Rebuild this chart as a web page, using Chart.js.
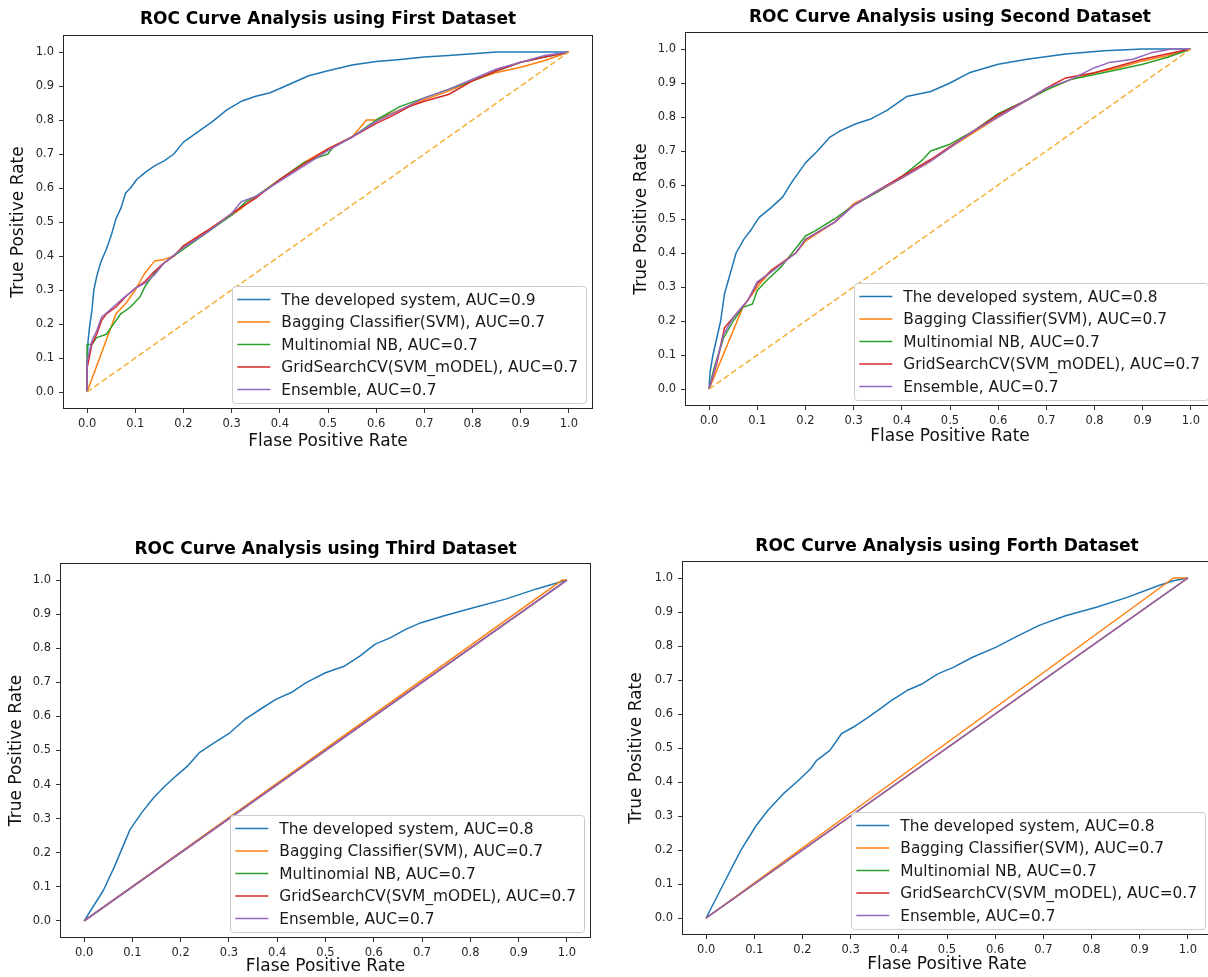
<!DOCTYPE html>
<html>
<head>
  <meta charset="utf-8">
  <title>ROC Curve Analysis</title>
  <script src="https://cdn.jsdelivr.net/npm/chart.js@4"></script>
  <style>
    body { margin: 0; background: #fff; width: 1208px; height: 977px; overflow: hidden; position: relative; }
    canvas { position: absolute; }
  </style>
</head>
<body>
  <canvas id="roc1"></canvas>
  <canvas id="roc2"></canvas>
  <canvas id="roc3"></canvas>
  <canvas id="roc4"></canvas>

  <script>
    // ---- data: [false positive rate, true positive rate] ----
    const tickValues = [0, 0.1, 0.2, 0.3, 0.4, 0.5, 0.6, 0.7, 0.8, 0.9, 1.0];
    const seriesNames = ['The developed system', 'Bagging Classifier(SVM)', 'Multinomial NB', 'GridSearchCV(SVM_mODEL)', 'Ensemble'];
    const chartTitles = [
      'ROC Curve Analysis using First Dataset',
      'ROC Curve Analysis using Second Dataset',
      'ROC Curve Analysis using Third Dataset',
      'ROC Curve Analysis using Forth Dataset'
    ];
    const aucFirst  = [0.9, 0.7, 0.7, 0.7, 0.7];
    const aucSecond = [0.8, 0.7, 0.7, 0.7, 0.7];
    const aucThird  = [0.8, 0.7, 0.7, 0.7, 0.7];
    const aucForth  = [0.8, 0.7, 0.7, 0.7, 0.7];
    const chanceLine = [[0, 0], [1, 1]];

    // First dataset
    const firstDeveloped = [[0,0],[0,0.08],[0.002,0.15],[0.005,0.19],[0.01,0.24],[0.014,0.3],[0.02,0.34],[0.028,0.38],[0.04,0.42],[0.05,0.46],[0.06,0.51],[0.07,0.54],[0.08,0.585],[0.09,0.6],[0.103,0.625],[0.12,0.645],[0.14,0.665],[0.16,0.68],[0.18,0.7],[0.2,0.735],[0.23,0.765],[0.26,0.795],[0.29,0.83],[0.32,0.855],[0.35,0.87],[0.38,0.88],[0.42,0.905],[0.46,0.93],[0.5,0.945],[0.55,0.962],[0.6,0.972],[0.65,0.978],[0.7,0.985],[0.75,0.99],[0.8,0.995],[0.85,1],[1,1]];
    const firstBagging = [[0,0],[0.06,0.23],[0.08,0.26],[0.1,0.3],[0.12,0.35],[0.14,0.385],[0.16,0.39],[0.18,0.4],[0.2,0.43],[0.25,0.475],[0.3,0.52],[0.32,0.54],[0.35,0.575],[0.4,0.625],[0.45,0.675],[0.5,0.715],[0.55,0.75],[0.58,0.8],[0.6,0.8],[0.65,0.83],[0.7,0.86],[0.75,0.885],[0.8,0.915],[0.85,0.94],[0.9,0.955],[0.95,0.975],[1,1]];
    const firstMultinomial = [[0,0],[0,0.14],[0.01,0.14],[0.02,0.16],[0.04,0.17],[0.05,0.19],[0.07,0.23],[0.09,0.25],[0.11,0.28],[0.12,0.31],[0.14,0.35],[0.16,0.38],[0.18,0.4],[0.2,0.42],[0.22,0.44],[0.25,0.47],[0.28,0.5],[0.3,0.52],[0.33,0.56],[0.35,0.575],[0.4,0.625],[0.45,0.675],[0.48,0.69],[0.5,0.7],[0.51,0.72],[0.55,0.75],[0.6,0.8],[0.65,0.84],[0.7,0.865],[0.75,0.89],[0.8,0.915],[0.85,0.945],[0.9,0.97],[0.95,0.985],[1,1]];
    const firstGridSearch = [[0,0],[0,0.07],[0.01,0.14],[0.02,0.17],[0.03,0.21],[0.04,0.23],[0.06,0.25],[0.08,0.28],[0.1,0.305],[0.12,0.325],[0.14,0.355],[0.16,0.38],[0.18,0.4],[0.2,0.43],[0.25,0.475],[0.3,0.525],[0.35,0.57],[0.4,0.625],[0.45,0.67],[0.5,0.715],[0.55,0.75],[0.6,0.79],[0.63,0.81],[0.67,0.84],[0.7,0.855],[0.75,0.875],[0.8,0.915],[0.85,0.945],[0.9,0.97],[0.95,0.985],[1,1]];
    const firstEnsemble = [[0,0],[0,0.09],[0.01,0.15],[0.02,0.18],[0.03,0.22],[0.05,0.245],[0.07,0.27],[0.1,0.305],[0.12,0.32],[0.14,0.345],[0.16,0.38],[0.2,0.425],[0.25,0.47],[0.3,0.525],[0.32,0.56],[0.35,0.575],[0.4,0.62],[0.45,0.665],[0.5,0.71],[0.55,0.75],[0.6,0.795],[0.65,0.83],[0.7,0.865],[0.75,0.89],[0.8,0.92],[0.85,0.95],[0.9,0.97],[0.95,0.99],[1,1]];

    // Second dataset
    const secondDeveloped = [[0,0],[0.002,0.05],[0.008,0.1],[0.016,0.15],[0.024,0.2],[0.032,0.28],[0.04,0.32],[0.048,0.36],[0.056,0.4],[0.072,0.44],[0.088,0.47],[0.104,0.505],[0.13,0.535],[0.153,0.565],[0.17,0.605],[0.185,0.635],[0.2,0.665],[0.225,0.7],[0.25,0.74],[0.273,0.76],[0.305,0.78],[0.337,0.795],[0.37,0.82],[0.41,0.86],[0.46,0.875],[0.5,0.9],[0.54,0.93],[0.6,0.955],[0.66,0.97],[0.74,0.985],[0.82,0.995],[0.9,1],[1,1]];
    const secondBagging = [[0,0],[0.07,0.24],[0.1,0.3],[0.13,0.35],[0.18,0.4],[0.2,0.435],[0.26,0.49],[0.3,0.545],[0.35,0.58],[0.4,0.62],[0.46,0.67],[0.5,0.71],[0.55,0.755],[0.6,0.8],[0.66,0.85],[0.7,0.88],[0.75,0.91],[0.8,0.93],[0.85,0.945],[0.9,0.965],[0.95,0.98],[1,1]];
    const secondMultinomial = [[0,0],[0.01,0.06],[0.03,0.15],[0.05,0.2],[0.07,0.24],[0.09,0.25],[0.1,0.29],[0.12,0.32],[0.15,0.36],[0.2,0.45],[0.22,0.465],[0.26,0.5],[0.3,0.54],[0.35,0.58],[0.4,0.625],[0.44,0.67],[0.46,0.7],[0.5,0.72],[0.55,0.76],[0.6,0.81],[0.66,0.85],[0.7,0.88],[0.75,0.91],[0.8,0.925],[0.85,0.94],[0.9,0.955],[0.95,0.975],[1,1]];
    const secondGridSearch = [[0,0],[0.016,0.075],[0.032,0.18],[0.056,0.22],[0.08,0.26],[0.1,0.31],[0.13,0.35],[0.18,0.4],[0.2,0.44],[0.26,0.49],[0.3,0.54],[0.34,0.575],[0.4,0.625],[0.46,0.675],[0.5,0.713],[0.54,0.75],[0.6,0.806],[0.66,0.85],[0.7,0.885],[0.74,0.915],[0.8,0.93],[0.85,0.95],[0.9,0.97],[0.95,0.985],[1,1]];
    const secondEnsemble = [[0,0],[0.01,0.05],[0.03,0.16],[0.05,0.21],[0.08,0.26],[0.1,0.315],[0.13,0.345],[0.18,0.4],[0.2,0.44],[0.26,0.49],[0.3,0.54],[0.34,0.575],[0.4,0.62],[0.46,0.67],[0.5,0.71],[0.55,0.76],[0.6,0.8],[0.66,0.85],[0.7,0.885],[0.75,0.91],[0.8,0.945],[0.83,0.96],[0.88,0.97],[0.92,0.99],[0.96,1],[1,1]];

    // Third dataset
    const thirdDeveloped = [[0,0],[0.04,0.09],[0.063,0.16],[0.095,0.268],[0.119,0.317],[0.143,0.36],[0.167,0.395],[0.19,0.425],[0.214,0.454],[0.238,0.493],[0.27,0.523],[0.302,0.552],[0.333,0.591],[0.365,0.621],[0.397,0.65],[0.429,0.67],[0.46,0.699],[0.5,0.728],[0.54,0.748],[0.571,0.777],[0.603,0.812],[0.635,0.831],[0.667,0.856],[0.698,0.875],[0.746,0.895],[0.81,0.92],[0.873,0.944],[0.937,0.974],[1,1]];
    const thirdBagging = [[0,0],[0.99,1],[1,1]];
    const thirdMultinomial = [[0,0],[1,1]];
    const thirdGridSearch = [[0,0],[1,1]];
    const thirdEnsemble = [[0,0],[1,1]];

    // Forth dataset
    const forthDeveloped = [[0,0],[0.04,0.111],[0.072,0.199],[0.104,0.272],[0.128,0.316],[0.16,0.365],[0.192,0.405],[0.217,0.439],[0.229,0.463],[0.257,0.493],[0.281,0.542],[0.305,0.561],[0.337,0.591],[0.361,0.615],[0.385,0.64],[0.417,0.669],[0.449,0.689],[0.481,0.718],[0.513,0.737],[0.553,0.767],[0.601,0.796],[0.642,0.826],[0.69,0.86],[0.746,0.889],[0.81,0.914],[0.874,0.943],[0.938,0.977],[0.97,0.992],[1,1]];
    const forthBagging = [[0,0],[0.97,1],[1,1]];
    const forthMultinomial = [[0,0],[1,1]];
    const forthGridSearch = [[0,0],[1,1]];
    const forthEnsemble = [[0,0],[1,1]];

    // ---- styling / layout ----
    const seriesColors = ['#1f77b4', '#ff7f0e', '#2ca02c', '#d62728', '#9467bd'];
    const chanceColor = '#f5b03a';
    const fontFamily = '"DejaVu Sans", Verdana, sans-serif';
    const yAxisWidth = 63;
    const xAxisHeight = 48;
    const rightPad = 30;

    const panels = [
      { id: 'roc1', left: 63,  top: 35,  w: 530, h: 374, top0: 0,   titleY: 20,  ylabX: 19, xlabY: 442,
        curves: [firstDeveloped, firstBagging, firstMultinomial, firstGridSearch, firstEnsemble], auc: aucFirst, chance: true },
      { id: 'roc2', left: 685, top: 32,  w: 530, h: 374, top0: 0,   titleY: 18,  ylabX: 20, xlabY: 437,
        curves: [secondDeveloped, secondBagging, secondMultinomial, secondGridSearch, secondEnsemble], auc: aucSecond, chance: true },
      { id: 'roc3', left: 60,  top: 563, w: 531, h: 375, top0: 480, titleY: 550, ylabX: 20, xlabY: 967,
        curves: [thirdDeveloped, thirdBagging, thirdMultinomial, thirdGridSearch, thirdEnsemble], auc: aucThird, chance: false },
      { id: 'roc4', left: 682, top: 561, w: 530, h: 374, top0: 480, titleY: 547, ylabX: 18, xlabY: 965,
        curves: [forthDeveloped, forthBagging, forthMultinomial, forthGridSearch, forthEnsemble], auc: aucForth, chance: false }
    ];

    // box round the plot area (matplotlib spines), drawn as 1px filled strips
    var framePlugin = {
      id: 'framePlugin',
      afterDatasetsDraw: function (chart) {
        const a = chart.chartArea;
        const ctx = chart.ctx;
        const l = Math.round(a.left), r = Math.round(a.right);
        const t = Math.round(a.top), b = Math.round(a.bottom);
        ctx.save();
        ctx.fillStyle = '#262626';
        ctx.fillRect(l, t, r - l, 1);
        ctx.fillRect(l, b - 1, r - l, 1);
        ctx.fillRect(l, t, 1, b - t);
        ctx.fillRect(r - 1, t, 1, b - t);
        ctx.restore();
      }
    };

    // title centred over the plot area, as matplotlib does
    var axesTitle = {
      id: 'axesTitle',
      afterDraw: function (chart, args, opts) {
        const a = chart.chartArea;
        const ctx = chart.ctx;
        ctx.save();
        ctx.font = 'bold 17px ' + fontFamily;
        ctx.fillStyle = '#000000';
        ctx.textAlign = 'center';
        ctx.textBaseline = 'middle';
        ctx.fillText(opts.text, (a.left + a.right) / 2, opts.y);
        ctx.restore();
      }
    };

    // legend drawn inside the plot, lower right
    var insideLegend = {
      id: 'insideLegend',
      afterDatasetsDraw: function (chart, args, opts) {
        const ctx = chart.ctx;
        const a = chart.chartArea;
        const f = opts.fontSize;
        ctx.save();
        ctx.font = f + 'px ' + fontFamily;
        let maxW = 0;
        opts.items.forEach(it => { maxW = Math.max(maxW, ctx.measureText(it.text).width); });
        const padL = 5, padR = 8, handle = 33, gap = 11, rowH = 22.5, padV = 2.25;
        const w = padL + handle + gap + maxW + padR;
        const h = opts.items.length * rowH + 2 * padV;
        const x = a.right - 7 - w;
        const y = a.bottom - 6 - h;
        ctx.beginPath();
        ctx.roundRect(Math.round(x) + 0.5, Math.round(y) + 0.5, Math.round(w), Math.round(h), 3);
        ctx.fillStyle = 'rgba(255,255,255,0.8)';
        ctx.fill();
        ctx.strokeStyle = '#cccccc';
        ctx.lineWidth = 1;
        ctx.stroke();
        ctx.textBaseline = 'middle';
        ctx.textAlign = 'left';
        opts.items.forEach((it, i) => {
          const cy = y + padV + rowH * (i + 0.5);
          ctx.beginPath();
          ctx.moveTo(x + padL, cy);
          ctx.lineTo(x + padL + handle, cy);
          ctx.strokeStyle = it.color;
          ctx.lineWidth = 1.5;
          ctx.stroke();
          ctx.fillStyle = '#1a1a1a';
          ctx.fillText(it.text, x + padL + handle + gap, cy + 1);
        });
        ctx.restore();
      }
    };

    Chart.defaults.font.family = fontFamily;

    panels.forEach(function (p, k) {
      const canvas = document.getElementById(p.id);
      const cw = yAxisWidth + p.w + rightPad;
      const ch = (p.top - p.top0) + p.h + xAxisHeight;
      canvas.width = cw;
      canvas.height = ch;
      canvas.style.width = cw + 'px';
      canvas.style.height = ch + 'px';
      canvas.style.left = (p.left - yAxisWidth) + 'px';
      canvas.style.top = p.top0 + 'px';

      const datasets = p.curves.map(function (pts, i) {
        return {
          label: seriesNames[i],
          data: pts.map(q => ({ x: q[0], y: q[1] })),
          showLine: true,
          borderColor: seriesColors[i],
          borderWidth: 1.5,
          borderJoinStyle: 'round',
          pointRadius: 0,
          fill: false,
          tension: 0,
          order: 10 - i
        };
      });
      if (p.chance) {
        datasets.push({
          label: 'chance',
          data: chanceLine.map(q => ({ x: q[0], y: q[1] })),
          showLine: true,
          borderColor: chanceColor,
          borderWidth: 1.5,
          borderDash: [6, 3],
          pointRadius: 0,
          fill: false,
          order: 0
        });
      }

      const legendItems = seriesNames.map((n, i) => ({ text: n + ', AUC=' + p.auc[i], color: seriesColors[i] }));
      const labelLine = 17 * 1.2;

      new Chart(canvas, {
        type: 'scatter',
        data: { datasets: datasets },
        plugins: [framePlugin, insideLegend, axesTitle],
        options: {
          responsive: false,
          animation: false,
          events: [],
          layout: { padding: { top: p.top - p.top0, right: rightPad, left: 0, bottom: 0 } },
          scales: {
            x: {
              type: 'linear', min: -0.05, max: 1.05,
              afterBuildTicks: s => { s.ticks = tickValues.map(v => ({ value: v })); },
              afterFit: s => { s.height = xAxisHeight; },
              ticks: { callback: v => v.toFixed(1), font: { size: 11.5 }, color: '#262626', padding: 4, maxRotation: 0, autoSkip: false },
              grid: { display: true, drawOnChartArea: false, drawTicks: true, tickLength: 4, color: '#333333' },
              border: { display: false },
              title: { display: true, text: 'Flase Positive Rate', font: { size: 17 }, color: '#111111',
                       padding: { top: 0, bottom: (p.top + p.h + xAxisHeight) - p.xlabY - labelLine / 2 } }
            },
            y: {
              type: 'linear', min: -0.05, max: 1.05,
              afterBuildTicks: s => { s.ticks = tickValues.map(v => ({ value: v })); },
              afterFit: s => { s.width = yAxisWidth; },
              ticks: { callback: v => v.toFixed(1), font: { size: 11.5 }, color: '#262626', padding: 5, autoSkip: false },
              grid: { display: true, drawOnChartArea: false, drawTicks: true, tickLength: 4, color: '#333333' },
              border: { display: false },
              title: { display: true, text: 'True Positive Rate', font: { size: 17 }, color: '#111111',
                       padding: { top: p.ylabX - labelLine / 2, bottom: 0 } }
            }
          },
          plugins: {
            legend: { display: false },
            tooltip: { enabled: false },
            title: { display: false },
            axesTitle: { text: chartTitles[k], y: p.titleY - p.top0 },
            insideLegend: { items: legendItems, fontSize: 15.4 }
          }
        }
      });
    });
  </script>
</body>
</html>
